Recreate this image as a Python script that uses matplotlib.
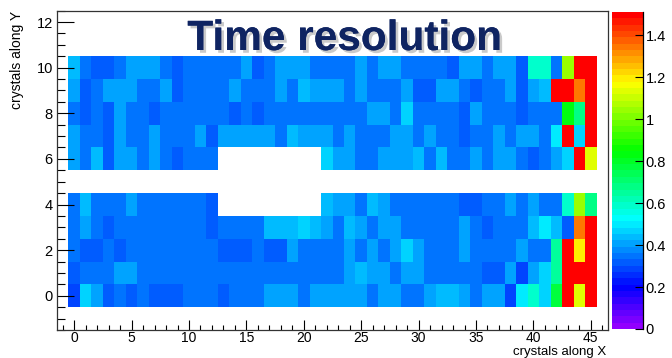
import numpy as np
import matplotlib
matplotlib.use("Agg")
import matplotlib.pyplot as plt
import matplotlib.patheffects as pe
from matplotlib.colors import ListedColormap, Normalize
from matplotlib.ticker import MultipleLocator
import colorsys

plt.rcParams['font.family'] = ['Liberation Sans', 'DejaVu Sans']

nan = np.nan

# crystal index along X (bin centres) and along Y
x_crystals = np.arange(46)
y_crystals = np.arange(11)

# time resolution per crystal, one list per row (row 0 = bottom)
row_0 = [0.28, 0.48, 0.41, 0.32, 0.36, 0.32, 0.36, 0.32, 0.32, 0.32, 0.36, 0.36,
         0.36, 0.32, 0.36, 0.36, 0.36, 0.41, 0.41, 0.41, 0.36, 0.41, 0.41, 0.41,
         0.41, 0.41, 0.36, 0.41, 0.41, 0.36, 0.36, 0.41, 0.44, 0.44, 0.41, 0.36,
         0.41, 0.41, 0.29, 0.51, 0.60, 0.47, 0.78, 1.49, 1.12, 1.49]
row_1 = [0.32, 0.36, 0.36, 0.36, 0.41, 0.41, 0.36, 0.36, 0.36, 0.36, 0.36, 0.36,
         0.36, 0.36, 0.36, 0.36, 0.36, 0.36, 0.36, 0.36, 0.36, 0.36, 0.36, 0.36,
         0.41, 0.44, 0.41, 0.41, 0.36, 0.41, 0.41, 0.36, 0.36, 0.36, 0.36, 0.36,
         0.32, 0.32, 0.41, 0.29, 0.41, 0.47, 0.66, 1.49, 1.49, 1.49]
row_2 = [0.36, 0.32, 0.32, 0.36, 0.32, 0.36, 0.36, 0.36, 0.36, 0.36, 0.36, 0.36,
         0.36, 0.32, 0.32, 0.32, 0.36, 0.32, 0.32, 0.41, 0.36, 0.36, 0.36, 0.36,
         0.41, 0.36, 0.41, 0.36, 0.41, 0.48, 0.41, 0.36, 0.36, 0.36, 0.41, 0.36,
         0.36, 0.36, 0.36, 0.41, 0.36, 0.36, 0.66, 1.49, 1.18, 1.49]
row_3 = [0.36, 0.41, 0.36, 0.32, 0.36, 0.36, 0.36, 0.36, 0.36, 0.36, 0.36, 0.36,
         0.32, 0.36, 0.36, 0.36, 0.36, 0.44, 0.44, 0.44, 0.48, 0.44, 0.41, 0.36,
         0.44, 0.41, 0.36, 0.41, 0.41, 0.36, 0.36, 0.36, 0.36, 0.36, 0.41, 0.36,
         0.32, 0.36, 0.36, 0.36, 0.44, 0.51, 0.44, 0.32, 1.33, 1.49]
row_4 = [0.36, 0.44, 0.36, 0.36, 0.36, 0.41, 0.36, 0.36, 0.36, 0.36, 0.36, 0.36,
         0.32, nan, nan, nan, nan, nan, nan, nan, nan, nan, 0.44, 0.41,
         0.41, 0.36, 0.44, 0.41, 0.36, 0.36, 0.36, 0.36, 0.36, 0.36, 0.32, 0.32,
         0.36, 0.36, 0.41, 0.36, 0.41, 0.36, 0.36, 0.59, 1.05, 0.68]
row_5 = [nan] * 46
row_6 = [0.41, 0.36, 0.44, 0.32, 0.41, 0.41, 0.36, 0.41, 0.36, 0.32, 0.36, 0.36,
         0.36, nan, nan, nan, nan, nan, nan, nan, nan, nan, 0.48, 0.41,
         0.41, 0.36, 0.36, 0.41, 0.41, 0.41, 0.44, 0.36, 0.44, 0.36, 0.36, 0.41,
         0.36, 0.41, 0.41, 0.36, 0.32, 0.36, 0.41, 0.47, 1.49, 1.13]
row_7 = [0.41, 0.36, 0.36, 0.32, 0.41, 0.36, 0.36, 0.41, 0.36, 0.36, 0.36, 0.41,
         0.32, 0.41, 0.41, 0.41, 0.41, 0.41, 0.36, 0.44, 0.41, 0.41, 0.41, 0.36,
         0.41, 0.36, 0.36, 0.36, 0.41, 0.41, 0.36, 0.41, 0.36, 0.36, 0.32, 0.36,
         0.36, 0.41, 0.36, 0.41, 0.41, 0.36, 0.51, 1.49, 0.48, 1.49]
row_8 = [0.36, 0.32, 0.36, 0.32, 0.41, 0.36, 0.36, 0.32, 0.36, 0.36, 0.36, 0.36,
         0.36, 0.36, 0.32, 0.36, 0.32, 0.36, 0.36, 0.36, 0.36, 0.36, 0.36, 0.36,
         0.36, 0.36, 0.41, 0.41, 0.36, 0.48, 0.36, 0.36, 0.36, 0.36, 0.32, 0.41,
         0.36, 0.36, 0.36, 0.32, 0.36, 0.36, 0.36, 0.84, 0.68, 1.49]
row_9 = [0.41, 0.32, 0.36, 0.41, 0.41, 0.41, 0.36, 0.36, 0.41, 0.32, 0.36, 0.36,
         0.36, 0.36, 0.41, 0.36, 0.36, 0.36, 0.41, 0.36, 0.44, 0.41, 0.41, 0.41,
         0.36, 0.41, 0.36, 0.36, 0.36, 0.41, 0.32, 0.32, 0.41, 0.41, 0.36, 0.32,
         0.36, 0.36, 0.41, 0.32, 0.41, 0.44, 1.49, 1.49, 1.33, 1.49]
row_10 = [0.44, 0.36, 0.32, 0.32, 0.36, 0.41, 0.41, 0.41, 0.36, 0.32, 0.36, 0.36,
          0.36, 0.36, 0.36, 0.41, 0.32, 0.36, 0.41, 0.41, 0.41, 0.36, 0.36, 0.36,
          0.36, 0.41, 0.36, 0.41, 0.41, 0.36, 0.36, 0.36, 0.36, 0.32, 0.41, 0.41,
          0.36, 0.41, 0.41, 0.32, 0.59, 0.59, 0.36, 1.05, 1.49, 1.49]

z_max = 1.51
x_ticks = [0, 5, 10, 15, 20, 25, 30, 35, 40, 45]
y_ticks = [0, 2, 4, 6, 8, 10, 12]
z_ticks = [0, 0.2, 0.4, 0.6, 0.8, 1, 1.2, 1.4]

res = np.ma.masked_invalid(np.array([row_0, row_1, row_2, row_3, row_4, row_5,
                                     row_6, row_7, row_8, row_9, row_10]))

# ROOT "pretty" palette: 50 hues from violet to red
pal = []
for i in range(50):
    hue = 280 - (i + 1) * (280 / 50)
    pal.append(colorsys.hls_to_rgb(hue / 360, 0.5, 1.0))
cmap = ListedColormap(pal)
cmap.set_over(pal[-1])
cmap.set_bad((1, 1, 1, 0))
norm = Normalize(0, z_max)

W, H = 672, 358
fig = plt.figure(figsize=(W / 100, H / 100), dpi=100)
ax = fig.add_axes([57 / W, 1 - 330 / H, (608 - 57) / W, (330 - 10.6) / H])

xe = np.append(x_crystals - 0.5, x_crystals[-1] + 0.5)
ye = np.append(y_crystals - 0.5, y_crystals[-1] + 0.5)
ax.pcolormesh(xe, ye, res, cmap=cmap, norm=norm, edgecolors='none')

ax.set_xlim(-1.5, 46.5)
ax.set_ylim(-1.5, 12.5)
ax.set_xticks(x_ticks)
ax.set_yticks(y_ticks)
ax.xaxis.set_minor_locator(MultipleLocator(1))
ax.yaxis.set_minor_locator(MultipleLocator(0.5))
ax.tick_params(axis='x', which='major', direction='in', length=7, width=0.8,
               labelsize=10, pad=0.5, colors='black')
ax.tick_params(axis='x', which='minor', direction='in', length=3.5, width=0.8)
ax.tick_params(axis='y', which='major', direction='in', length=12, width=0.8,
               labelsize=10.5, pad=3)
ax.tick_params(axis='y', which='minor', direction='in', length=6, width=0.8)
for s in ax.spines.values():
    s.set_linewidth(0.9)
    s.set_color('#333333')

fig.text(17 / W, 1 - 11 / H, "crystals along Y", rotation=90, ha='center', va='top',
         fontsize=10)
fig.text(606 / W, 1 - 357.5 / H, "crystals along X", ha='right', va='bottom',
         fontsize=9.5)

title = fig.text(345 / W, 1 - 50 / H, "Time resolution", ha='center', va='baseline',
                 fontsize=30.5, fontweight='bold', color='#0f2462')
title.set_path_effects([pe.withSimplePatchShadow(offset=(2, -2), shadow_rgbFace='#8a8a8a',
                                                  alpha=0.45), pe.Normal()])

cax = fig.add_axes([612 / W, 1 - 329 / H, 31 / W, (329 - 12) / H])
cb = fig.colorbar(plt.cm.ScalarMappable(norm=norm, cmap=cmap), cax=cax)
cb.outline.set_visible(False)
cb.set_ticks(z_ticks)
cb.set_ticklabels(['0', '0.2', '0.4', '0.6', '0.8', '1', '1.2', '1.4'])
cax.tick_params(direction='in', length=6, width=0.8, labelsize=10.5, pad=2)
cax.plot([1, 1], [0, 1], transform=cax.transAxes, color='black', lw=0.9, clip_on=False)

fig.savefig("out.png", dpi=100)
